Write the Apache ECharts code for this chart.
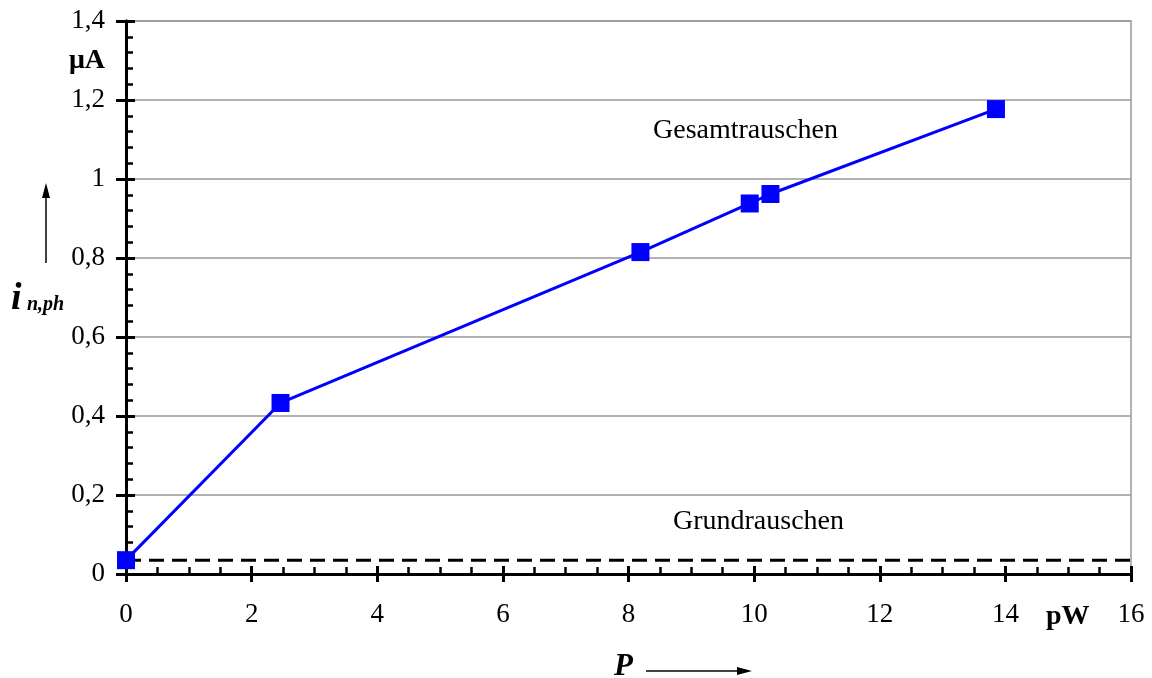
<!DOCTYPE html>
<html>
<head>
<meta charset="utf-8">
<script src="https://cdn.jsdelivr.net/npm/echarts@6/dist/echarts.min.js"></script>
<style>
html,body{margin:0;padding:0;background:#fff;}
#chart{width:1152px;height:678px;}
</style>
</head>
<body>
<div id="chart"></div>
<script>
// Data
const powerPW = [0, 2.46, 8.19, 9.93, 10.26, 13.85];
const noiseUA = [0.035, 0.433, 0.815, 0.938, 0.962, 1.177];
const baseNoiseLevel = [0.035];
const xRange = [0, 16];
const yRange = [0, 1.4];
const xTickStep = [2];
const yTickStep = [0.2];
const labelTotal = 'Gesamtrauschen';
const labelBase = 'Grundrauschen';
const yUnit = 'μA';
const xUnit = 'pW';

const FONT = '"Liberation Serif", "Times New Roman", serif';

const mainData = powerPW.map((p, i) => [p, noiseUA[i]]);
const baseData = [[xRange[0], baseNoiseLevel[0]], [xRange[1], baseNoiseLevel[0]]];

const chart = echarts.init(document.getElementById('chart'), null, {renderer: 'canvas'});

function fmt(v) {
  return String(+v.toFixed(1)).replace('.', ',');
}

const axisLineStyle = {color: '#000', width: 3};

const option = {
  animation: false,
  backgroundColor: '#fff',
  grid: {
    left: 126, right: 21, top: 21, bottom: 104,
    show: true, borderColor: '#999', borderWidth: 1.5, backgroundColor: 'transparent'
  },
  xAxis: [
    {
      type: 'value', position: 'bottom', min: xRange[0], max: xRange[1], interval: xTickStep[0],
      axisLine: {show: true, onZero: false, lineStyle: axisLineStyle},
      axisTick: {show: true, inside: true, length: 8, lineStyle: {color: '#000', width: 3}},
      minorTick: {show: true, splitNumber: 4, length: 7, lineStyle: {color: '#000', width: 2.5}},
      axisLabel: {show: true, margin: 27, color: '#000', fontFamily: FONT, fontSize: 27,
        formatter: fmt},
      splitLine: {show: false}
    },
    {
      type: 'value', position: 'bottom', min: xRange[0], max: xRange[1], interval: xTickStep[0],
      axisLine: {show: true, onZero: false, lineStyle: axisLineStyle},
      axisTick: {show: true, inside: false, length: 8, lineStyle: {color: '#000', width: 3}},
      axisLabel: {show: false},
      splitLine: {show: false}
    }
  ],
  yAxis: [
    {
      type: 'value', position: 'left', min: yRange[0], max: yRange[1], interval: yTickStep[0],
      axisLine: {show: true, onZero: false, lineStyle: axisLineStyle},
      axisTick: {show: true, inside: true, length: 9, lineStyle: {color: '#000', width: 3}},
      minorTick: {show: true, splitNumber: 5, length: 7, lineStyle: {color: '#000', width: 2.5}},
      axisLabel: {show: true, margin: 21, color: '#000', fontFamily: FONT, fontSize: 27,
        formatter: fmt},
      splitLine: {show: true, lineStyle: {color: '#999', width: 1.5}}
    },
    {
      type: 'value', position: 'left', min: yRange[0], max: yRange[1], interval: yTickStep[0],
      axisLine: {show: true, onZero: false, lineStyle: axisLineStyle},
      axisTick: {show: true, inside: false, length: 10, lineStyle: {color: '#000', width: 3}},
      axisLabel: {show: false},
      splitLine: {show: false}
    }
  ],
  series: [
    {
      type: 'line', name: 'base', xAxisIndex: 0, yAxisIndex: 0,
      data: baseData, symbol: 'none', silent: true, z: 3,
      lineStyle: {color: '#000', width: 3, type: [15, 8]}
    },
    {
      type: 'line', name: 'total', xAxisIndex: 0, yAxisIndex: 0,
      data: mainData, symbol: 'rect', symbolSize: 18, z: 4,
      itemStyle: {color: '#0000ff', borderWidth: 0},
      lineStyle: {color: '#0000ff', width: 3}
    }
  ],
  graphic: [
    {type: 'text', left: 653, top: 117, style: {text: labelTotal, font: '28px ' + FONT, fill: '#000'}},
    {type: 'text', left: 673, top: 508, style: {text: labelBase, font: '28px ' + FONT, fill: '#000'}},
    {type: 'text', left: 69, top: 47, style: {text: yUnit, font: 'bold 28px ' + FONT, fill: '#000'}},
    {type: 'text', left: 1046, top: 603, style: {text: xUnit, font: 'bold 28px ' + FONT, fill: '#000'}},
    {type: 'text', left: 11, top: 280, style: {text: 'i', font: 'bold italic 38px ' + FONT, fill: '#000'}},
    {type: 'text', left: 27, top: 295, style: {text: 'n,ph', font: 'bold italic 20px ' + FONT, fill: '#000'}},
    {type: 'line', shape: {x1: 46, y1: 263, x2: 46, y2: 195}, style: {stroke: '#000', lineWidth: 1.5}},
    {type: 'polygon', shape: {points: [[46, 183], [42, 198], [50, 198]]}, style: {fill: '#000'}},
    {type: 'text', left: 614, top: 651, style: {text: 'P', font: 'bold italic 31px ' + FONT, fill: '#000'}},
    {type: 'line', shape: {x1: 646, y1: 671, x2: 740, y2: 671}, style: {stroke: '#000', lineWidth: 1.5}},
    {type: 'polygon', shape: {points: [[752, 671], [737, 667], [737, 675]]}, style: {fill: '#000'}}
  ]
};

chart.setOption(option);
</script>
</body>
</html>
